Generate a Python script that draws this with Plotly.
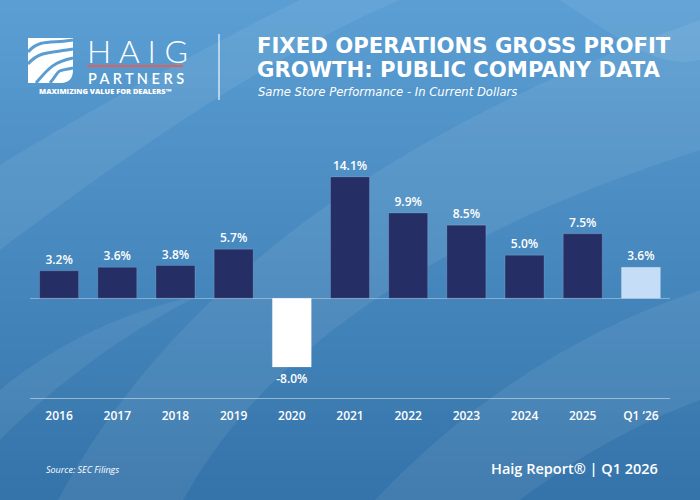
import plotly.graph_objects as go

# chart data
categories = ["2016", "2017", "2018", "2019", "2020", "2021", "2022", "2023", "2024", "2025", "Q1 \u201826"]
growth = [3.2, 3.6, 3.8, 5.7, -8.0, 14.1, 9.9, 8.5, 5.0, 7.5, 3.6]
bar_colors = ["#252f66"] * 4 + ["#ffffff"] + ["#252f66"] * 5 + ["#c6ddf8"]

W, H = 700, 500
ML, MR, MT, MB = 30, 30, 140, 102


# pixel -> paper helpers for the decoration
def px(x):
    return (x - ML) / (W - ML - MR)


def py(y):
    return (H - MB - y) / (H - MT - MB)


def path(points, close=True):
    s = ""
    for i, p in enumerate(points):
        if p[0] == "C":
            s += " C %.4f,%.4f %.4f,%.4f %.4f,%.4f" % (px(p[1]), py(p[2]), px(p[3]), py(p[4]), px(p[5]), py(p[6]))
        else:
            s += (" M" if i == 0 else " L") + " %.4f,%.4f" % (px(p[0]), py(p[1]))
    return s + (" Z" if close else "")


shapes = []

# background gradient made of strips
top = (90, 158, 211)
bot = (53, 116, 170)
n = 40
for i in range(n):
    t = i / (n - 1)
    c = tuple(round(top[k] + (bot[k] - top[k]) * t) for k in range(3))
    shapes.append(dict(type="rect", xref="paper", yref="paper", layer="below",
                       x0=px(-2), x1=px(W + 2), y0=py(i * H / n), y1=py((i + 1) * H / n + 1),
                       fillcolor="rgb(%d,%d,%d)" % c, line_width=0))

# light swooshes
swoosh = "rgba(255,255,255,0.07)"
bands = [
    [(0, 250), ("C", 120, 160, 260, 60, 400, 0), (300, 0), ("C", 200, 50, 90, 110, 0, 165)],
    [(58, 500), ("C", 150, 330, 330, 150, 700, 20), (700, 150), ("C", 420, 240, 260, 360, 183, 500)],
    [(375, 500), ("C", 470, 400, 580, 330, 700, 290), (700, 400), ("C", 620, 430, 560, 470, 520, 500)],
    [(0, 390), ("C", 60, 340, 130, 310, 200, 295), ("C", 130, 330, 60, 380, 0, 440)],
    [(560, 0), ("C", 620, 40, 660, 70, 700, 60), (700, 0)],
]
for b in bands:
    shapes.append(dict(type="path", xref="paper", yref="paper", layer="below",
                       path=path(b), fillcolor=swoosh, line_width=0))

# logo mark
shapes.append(dict(type="path", xref="paper", yref="paper",
                   path=path([(28, 38), (73, 38), (73, 70), ("C", 73, 78, 69, 83, 61, 83), (28, 83)]),
                   fillcolor="white", line_width=0))
for a, b2 in [((28, 52), (73, 40)), ((28, 64), (73, 49)), ((36, 83), (73, 58)), ((50, 83), (73, 68))]:
    shapes.append(dict(type="path", xref="paper", yref="paper",
                       path=path([a, ("C", a[0] + 12, a[1] - 14, b2[0] - 20, b2[1] + 4, b2[0], b2[1])], close=False),
                       line=dict(color="#5a9dd2", width=3), fillcolor="rgba(0,0,0,0)"))
# red rule and separator
shapes.append(dict(type="line", xref="paper", yref="paper", x0=px(87), x1=px(183), y0=py(66), y1=py(66),
                   line=dict(color="#e0605c", width=2)))
shapes.append(dict(type="line", xref="paper", yref="paper", x0=px(219), x1=px(219), y0=py(34), y1=py(100),
                   line=dict(color="rgba(255,255,255,0.55)", width=2)))

fig = go.Figure()
fig.add_trace(go.Bar(
    x=categories, y=growth,
    marker=dict(color=bar_colors, line=dict(color="rgba(255,255,255,0.15)", width=1)),
    text=["%.1f%%" % v for v in growth], textposition="outside",
    textfont=dict(color="white", size=12, family="Open Sans", weight=600),
    cliponaxis=False, hoverinfo="skip",
))

ann = []


def label(x, y, text, size, weight=400, anchor="left", style="normal", family="Open Sans", h=None):
    a = dict(xref="paper", yref="paper", x=px(x), y=py(y), xanchor=anchor, yanchor="middle",
             text=text, showarrow=False,
             font=dict(color="white", size=size, family=family, weight=weight, style=style))
    if h:
        a["height"] = h
    ann.append(a)


label(255, 45, "FIXED OPERATIONS GROSS PROFIT", 21.2, 700, family="DejaVu Sans", h=21)
label(255, 70, "GROWTH: PUBLIC COMPANY DATA", 21.2, 700, family="DejaVu Sans", h=21)
label(256, 91.5, "Same Store Performance - In Current Dollars", 11.6, 300, style="italic",
      family="DejaVu Sans", h=16)
label(85, 50, "H A I G", 32, 300, family="Lato")
label(86, 78, "P A R T N E R S", 14.5, 600, family="Lato")
label(37, 91, "MAXIMIZING VALUE FOR DEALERS\u2122", 7.4, 800)
label(44, 469, "Source: SEC Filings", 9, 400, style="italic")
label(660, 468, "Haig Report\u00ae | Q1 2026", 14.5, 600, anchor="right")

fig.update_layout(
    width=W, height=H,
    margin=dict(l=ML, r=MR, t=MT, b=MB),
    paper_bgcolor="#4a8ac2", plot_bgcolor="rgba(0,0,0,0)",
    showlegend=False, bargap=0.33,
    shapes=shapes, annotations=ann,
    xaxis=dict(showgrid=False, showline=True, linecolor="rgba(255,255,255,0.45)", linewidth=1,
               ticks="", ticklabelstandoff=7,
               tickfont=dict(color="white", size=12, family="Open Sans", weight=600)),
    yaxis=dict(range=[-11.6, 18.4], showgrid=False, showticklabels=False, zeroline=True,
               zerolinecolor="rgba(255,255,255,0.35)", zerolinewidth=1),
)

fig.write_html("out.html", config={"displayModeBar": False},
               post_script="document.body.style.margin='0';")
